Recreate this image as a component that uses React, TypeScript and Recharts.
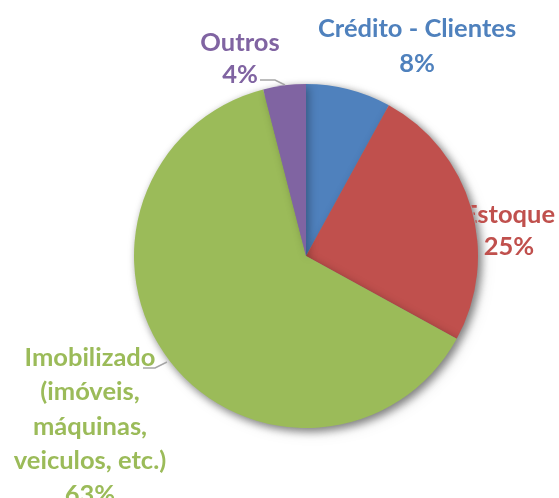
import React from "react";
import { PieChart, Pie, Cell } from "recharts";

const categories = ["Crédito - Clientes", "Estoque", "Imobilizado (imóveis, máquinas, veiculos, etc.)", "Outros"];
const values = [8, 25, 63, 4];
const colors = ["#4F81BD", "#C0504D", "#9BBB59", "#8064A2"];
const labelLines = [
  ["Crédito - Clientes", "8%"],
  ["Estoque", "25%"],
  ["Imobilizado", "(imóveis,", "máquinas,", "veiculos, etc.)", "63%"],
  ["Outros", "4%"],
];

// label layout relative to pie centre
const labelLayout = [
  { dx: 111, dy: -229, lh: 35, leader: null as null | number[][] },
  { dx: 203, dy: -43, lh: 32, leader: null },
  { dx: -216, dy: 100, lh: 34.3, leader: [[-163, 112], [-151, 112], [-139, 106]] },
  { dx: -66, dy: -215, lh: 32, leader: [[-46, -176], [-31, -176], [-21, -171]] },
];

const data = categories.map((name, i) => ({ name, value: values[i] }));

const FONT = "Lato, 'Open Sans', sans-serif";
const R = 172;

const renderLabel = (props: any) => {
  const { cx, cy, index } = props;
  const lay = labelLayout[index];
  const lines = labelLines[index];
  const x = cx + lay.dx;
  const y0 = cy + lay.dy;
  const maskId = `lblmask-${index}`;
  return (
    <g key={`lbl-${index}`}>
      <defs>
        <mask id={maskId} maskUnits="userSpaceOnUse" x={0} y={0} width={559} height={498}>
          <rect x={0} y={0} width={559} height={498} fill="white" />
          <circle cx={cx} cy={cy} r={R + 1} fill="black" />
        </mask>
      </defs>
      {lay.leader && (
        <polyline
          points={lay.leader.map((p) => `${cx + p[0]},${cy + p[1]}`).join(" ")}
          fill="none"
          stroke="#A6A6A6"
          strokeWidth={1.5}
        />
      )}
      <text
        x={x}
        y={y0}
        textAnchor="middle"
        fill={colors[index]}
        fontFamily={FONT}
        fontWeight="bold"
        fontSize={25.5}
        mask={`url(#${maskId})`}
      >
        {lines.map((l, j) => (
          <tspan key={j} x={x} y={y0 + j * lay.lh} dominantBaseline="central">
            {l}
          </tspan>
        ))}
      </text>
    </g>
  );
};

export default function App() {
  return (
    <div style={{ position: "absolute", left: 0, top: 0, width: 559, height: 498, background: "#fff" }}>
      <style>{`.mainpie { filter: drop-shadow(3px 3px 4px rgba(0,0,0,0.3)); }`}</style>
      <PieChart width={559} height={498} margin={{ top: 0, right: 0, bottom: 0, left: 0 }}>
        <Pie
          data={data}
          dataKey="value"
          cx={306}
          cy={256}
          outerRadius={R}
          startAngle={90}
          endAngle={-270}
          isAnimationActive={false}
          label={renderLabel}
          labelLine={false}
          fill="none"
          stroke="none"
        >
          {data.map((d, i) => (
            <Cell key={i} fill="transparent" stroke="none" />
          ))}
        </Pie>
        <Pie
          className="mainpie"
          data={data}
          dataKey="value"
          cx={306}
          cy={256}
          outerRadius={R}
          startAngle={90}
          endAngle={-270}
          isAnimationActive={false}
          label={false}
          labelLine={false}
          stroke="none"
        >
          {data.map((d, i) => (
            <Cell key={i} fill={colors[i]} stroke="none" />
          ))}
        </Pie>
      </PieChart>
    </div>
  );
}
